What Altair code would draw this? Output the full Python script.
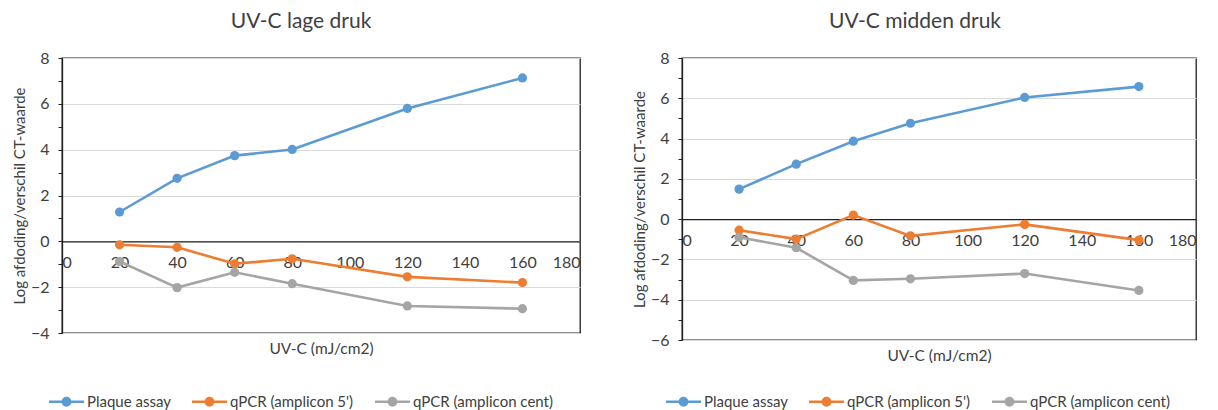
import altair as alt
import pandas as pd

# ---- data ----
doses = [20, 40, 60, 80, 120, 160]
series_names = ["Plaque assay", "qPCR (amplicon 5')", "qPCR (amplicon cent)"]
series_colors = ["#5B9BD5", "#ED7D31", "#A5A5A5"]

lage_plaque = [1.28, 2.75, 3.74, 4.01, 5.80, 7.13]
lage_q5 = [-0.15, -0.26, -0.98, -0.76, -1.55, -1.80]
lage_cent = [-0.88, -2.02, -1.35, -1.85, -2.82, -2.94]

midden_plaque = [1.49, 2.73, 3.87, 4.76, 6.04, 6.58]
midden_q5 = [-0.55, -0.99, 0.20, -0.83, -0.26, -1.04]
midden_cent = [-0.90, -1.42, -3.04, -2.96, -2.70, -3.54]

x_ticks = [0, 20, 40, 60, 80, 100, 120, 140, 160, 180]

FONT = "Lato"
DARK = "#1f1f1f"
TXT = "#404040"
LEGEND_SYMBOL = ("M-1,-0.07L1,-0.07L1,0.07L-1,0.07Z "
                 "M0.28,0A0.28,0.28,0,1,1,-0.28,0A0.28,0.28,0,1,1,0.28,0Z")


def long_df(values_by_series):
    rows = []
    for name, vals in zip(series_names, values_by_series):
        for d, v in zip(doses, vals):
            rows.append({"dose": d, "series": name, "value": v})
    return pd.DataFrame(rows)


def panel(title, df, ymin, ymax, width, height, title_dx, leg_x, leg_y):
    zero_from_bottom = height * (0 - ymin) / (ymax - ymin)
    y_values = list(range(ymin, ymax + 1))
    color_scale = alt.Scale(domain=series_names, range=series_colors)
    x_enc = alt.X(
        "dose:Q",
        scale=alt.Scale(domain=[0, 180], nice=False, zero=False),
        axis=alt.Axis(
            values=x_ticks, offset=-zero_from_bottom, grid=False,
            domainColor=DARK, domainWidth=1.3, tickSize=0,
            labelPadding=13, labelFont=FONT, labelFontSize=16, labelColor=TXT,
            title="UV-C (mJ/cm2)", titleY=zero_from_bottom + 15,
            titleBaseline="middle", titleFont=FONT, titleFontSize=15.5,
            titleFontWeight="normal", titleColor=TXT,
        ),
    )
    y_enc = alt.Y(
        "value:Q",
        scale=alt.Scale(domain=[ymin, ymax], nice=False, zero=False),
        axis=alt.Axis(
            values=y_values,
            labelExpr="datum.value % 2 === 0 ? datum.label : ''",
            grid=True, gridColor="#d9d9d9", gridWidth=1,
            gridOpacity={"condition": {"test": "datum.value % 2 !== 0", "value": 0}, "value": 1},
            domainColor=DARK, domainWidth=1.3, tickColor=DARK, tickSize=4, tickWidth=1,
            labelPadding=9, labelFont=FONT, labelFontSize=16, labelColor=TXT,
            title="Log afdoding/verschil CT-waarde", titleX=-43,
            titleBaseline="middle", titleFont=FONT, titleFontSize=15,
            titleFontWeight="normal", titleColor=TXT,
        ),
    )
    legend = alt.Legend(
        orient="none", legendX=leg_x, legendY=leg_y, direction="horizontal",
        title=None, symbolType=LEGEND_SYMBOL, symbolSize=1225,
        symbolStrokeWidth=0, symbolOpacity=1, labelFont=FONT, labelFontSize=15,
        labelColor=TXT, labelOffset=3, columnPadding=21,
    )
    base = alt.Chart(df)
    layers = []
    for name, col in zip(series_names, series_colors):
        sub = base.transform_filter(alt.datum.series == name)
        layers.append(sub.mark_line(strokeWidth=2.6, color=col).encode(
            x=x_enc, y=y_enc, order=alt.Order("dose:Q")))
        layers.append(sub.mark_circle(size=85, opacity=1).encode(
            x=x_enc, y=y_enc,
            color=alt.Color("series:N", scale=color_scale, legend=legend)))
    return alt.layer(*layers).properties(
        width=width, height=height,
        title=alt.TitleParams(title, dx=title_dx, font=FONT, fontSize=21,
                              fontWeight="normal", color=TXT, offset=18),
    )


left = panel("UV-C lage druk", long_df([lage_plaque, lage_q5, lage_cent]),
             -4, 8, 518, 275, -20, -13, 326)
right = panel("UV-C midden druk", long_df([midden_plaque, midden_q5, midden_cent]),
              -6, 8, 514, 282, -24, -16, 326)

chart = alt.hconcat(left, right, spacing=49).resolve_scale(
    color="independent"
).properties(
    padding={"left": 3, "top": 2, "right": 0, "bottom": 0}
).configure_view(stroke=DARK, strokeWidth=1.3)

chart.save("out.html", embed_options={"renderer": "svg", "actions": False})
